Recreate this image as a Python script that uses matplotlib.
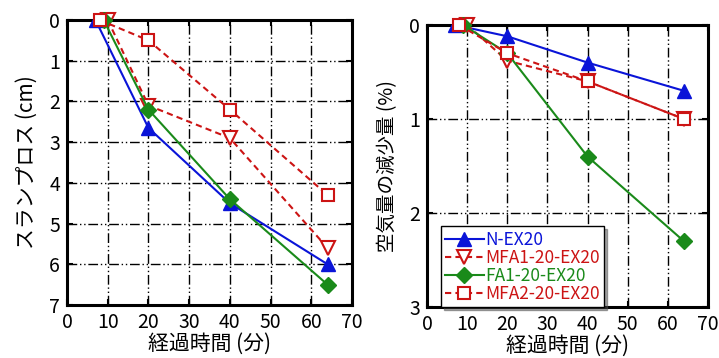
import matplotlib.pyplot as plt

plt.rcParams['font.family'] = ['Noto Sans CJK JP', 'DejaVu Sans']

# ============================================
# Data
# ============================================
names = ['N-EX20', 'MFA1-20-EX20', 'FA1-20-EX20', 'MFA2-20-EX20']

x_n = [7, 20, 40, 64]
x_mfa1 = [10, 20, 40, 64]
x_fa1 = [9, 20, 40, 64]
x_mfa2 = [8, 20, 40, 64]

slump_n = [0, 2.65, 4.5, 6.0]
slump_mfa1 = [0, 2.1, 2.9, 5.6]
slump_fa1 = [0, 2.2, 4.4, 6.5]
slump_mfa2 = [0, 0.5, 2.2, 4.3]

air_n = [0, 0.12, 0.4, 0.7]
air_mfa1 = [0, 0.38, 0.6, 1.0]
air_fa1 = [0, 0.3, 1.4, 2.3]
air_mfa2 = [0, 0.3, 0.6, 1.0]

x_ticks = [0, 10, 20, 30, 40, 50, 60, 70]

blue = '#0a14d8'
red = '#cc1414'
green = '#1a8a1a'

styles = [
    dict(color=blue, ls='-', marker='^', mfc=blue, ms=10),
    dict(color=red, ls=(0, (3, 2)), marker='v', mfc='white', ms=10, mew=1.5),
    dict(color=green, ls='-', marker='D', mfc=green, ms=8),
    dict(color=red, ls=(0, (3, 2)), marker='s', mfc='white', ms=9, mew=1.5),
]

fig = plt.figure(figsize=(7.19, 3.58), dpi=100)
ax1 = fig.add_axes([67 / 719, 1 - 305 / 358, 285 / 719, 285 / 358])
ax2 = fig.add_axes([427 / 719, 1 - 307 / 358, 281 / 719, 282 / 358])


def style_axes(ax, ymax):
    ax.set_xlim(0, 70)
    ax.set_ylim(ymax, 0)
    ax.set_xticks(x_ticks)
    ax.set_yticks(range(ymax + 1))
    ax.grid(True, color='black', lw=1.0, ls=(0, (7, 2, 1, 2, 1, 2)))
    ax.tick_params(direction='in', length=4, width=1.5, top=True, right=True,
                   labelsize=14, pad=5)
    for s in ax.spines.values():
        s.set_linewidth(2.2)
    ax.set_xlabel('経過時間 (分)', fontsize=15, labelpad=0)


xs = [x_n, x_mfa1, x_fa1, x_mfa2]
slumps = [slump_n, slump_mfa1, slump_fa1, slump_mfa2]
airs = [air_n, air_mfa1, air_fa1, air_mfa2]

for x, y, st in zip(xs, slumps, styles):
    ax1.plot(x, y, lw=1.5, **st, clip_on=False, zorder=3)
style_axes(ax1, 7)
ax1.set_ylabel('スランプロス (cm)', fontsize=15, labelpad=8)

for x, y, st, nm in zip(xs, airs, styles, names):
    ax2.plot(x, y, lw=1.5, **st, clip_on=False, zorder=3, label=nm)
style_axes(ax2, 3)
ax2.set_ylabel('空気量の減少量 (%)', fontsize=14, labelpad=8)

leg = ax2.legend(loc='lower left', bbox_to_anchor=(0.05, 0.0), fontsize=12.5,
                 frameon=True, fancybox=False, shadow=True, edgecolor='black',
                 handlelength=2.2, handletextpad=0.1, labelspacing=0.0,
                 borderpad=0.25, borderaxespad=0.0)
leg.get_frame().set_linewidth(1.0)
for txt, st in zip(leg.get_texts(), styles):
    txt.set_color(st['color'])

plt.savefig('out.png', dpi=100)
